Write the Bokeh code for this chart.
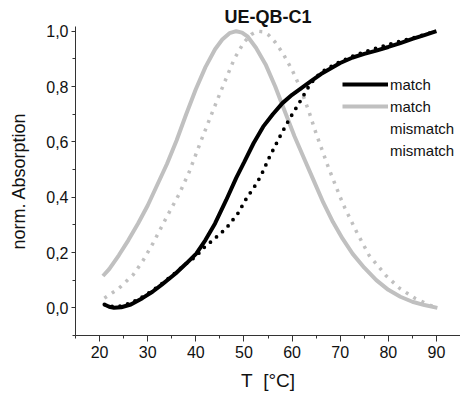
from bokeh.plotting import figure
from bokeh.models import (Range1d, FixedTicker, CustomJSTickFormatter, Legend,
                          LegendItem)
from bokeh.embed import file_html
from bokeh.resources import INLINE

# ---- data ----
title_text = "UE-QB-C1"
x_label = "T\u00a0\u00a0[°C]"
y_label = "norm. Absorption"
legend_labels = ["match", "match", "mismatch", "mismatch"]

x_ticks = [20, 30, 40, 50, 60, 70, 80, 90]
x_minor = [15, 25, 35, 45, 55, 65, 75, 85, 95]
y_ticks = [0.0, 0.2, 0.4, 0.6, 0.8, 1.0]
y_minor = [-0.1, 0.1, 0.3, 0.5, 0.7, 0.9]

# black solid: match (sigmoid)
match_black_T = [21, 22, 23, 24.5, 26.5, 28.9, 31, 33, 35.8, 38, 40.1, 42, 44, 46.3,
                 48.4, 50, 52, 54, 56, 58, 60, 62, 64, 66, 68, 70, 72.6, 75, 77.5,
                 80, 82.5, 85, 87.5, 90]
match_black_A = [0.012, 0.004, 0.0, 0.002, 0.012, 0.035, 0.058, 0.085, 0.124, 0.16,
                 0.196, 0.245, 0.305, 0.389, 0.47, 0.525, 0.595, 0.655, 0.70, 0.74,
                 0.77, 0.795, 0.82, 0.845, 0.865, 0.885, 0.905, 0.918, 0.93, 0.943,
                 0.957, 0.972, 0.986, 1.0]

# grey solid: match (derivative)
match_grey_T = [20.7, 22, 24, 26, 28, 30, 32, 34, 36, 38, 40, 42, 44, 45.5, 47, 48.4,
                49.6, 50.8, 52.5, 54.5, 56.5, 58.5, 60.5, 62.5, 64.5, 66.5, 68.5, 70.5,
                72.6, 75, 77.5, 80, 82.5, 85, 87.5, 90.2]
match_grey_A = [0.115, 0.14, 0.19, 0.245, 0.305, 0.37, 0.445, 0.52, 0.605, 0.70, 0.79,
                0.87, 0.935, 0.97, 0.993, 1.0, 0.995, 0.98, 0.94, 0.88, 0.80, 0.71,
                0.62, 0.54, 0.46, 0.38, 0.31, 0.25, 0.195, 0.145, 0.10, 0.065, 0.04,
                0.022, 0.01, 0.0]

# grey dotted: mismatch (derivative)
mis_grey_T = [21, 24, 27, 29, 31, 34, 36.5, 38.6, 41, 43.5, 45.6, 48, 50, 51.5, 52.8,
              54, 55.2, 56.5, 58.1, 60, 61.6, 63.5, 65, 67.5, 70, 71, 73.4, 76, 79.6,
              82.4, 85.5, 88.6, 90]
mis_grey_A = [0.035, 0.07, 0.12, 0.17, 0.23, 0.33, 0.41, 0.49, 0.60, 0.71, 0.80, 0.90,
              0.96, 0.988, 1.0, 0.998, 0.985, 0.96, 0.92, 0.86, 0.80, 0.71, 0.63, 0.51,
              0.40, 0.36, 0.275, 0.19, 0.115, 0.07, 0.035, 0.01, 0.0]

# black dotted: mismatch (sigmoid)
mis_black_T = [21, 23, 25, 27, 29, 31, 33, 35.8, 38, 39.9, 41.7, 43.5, 46.3, 48.7,
               50.5, 52.6, 53.6, 55.3, 57.8, 59.5, 61.6, 63.6, 65, 67, 70, 72.6, 75,
               80, 85, 90]
mis_black_A = [0.012, 0.003, 0.008, 0.022, 0.04, 0.062, 0.088, 0.127, 0.16, 0.184,
               0.218, 0.244, 0.287, 0.34, 0.395, 0.449, 0.48, 0.545, 0.63, 0.684,
               0.744, 0.804, 0.835, 0.862, 0.89, 0.91, 0.925, 0.952, 0.975, 1.0]

FONT = "Liberation Sans"
GREY = "#c0c0c0"

p = figure(width=460, height=396, output_backend="svg", toolbar_location=None,
           x_range=Range1d(15, 95), y_range=Range1d(-0.1, 1.017),
           min_border_left=75, min_border_right=0, min_border_top=26,
           min_border_bottom=61)
p.outline_line_color = None
p.xgrid.visible = False
p.ygrid.visible = False
p.background_fill_color = "white"
p.border_fill_color = "white"

p.title.text = title_text
p.title.align = "center"
p.title.text_font = FONT
p.title.text_font_style = "bold"
p.title.text_font_size = "18px"
p.title.text_color = "#111111"
p.title.standoff = 0
p.title.offset = 0

r_gs = p.line(match_grey_T, match_grey_A, line_color=GREY, line_width=4)
r_gd = p.line(mis_grey_T, mis_grey_A, line_color=GREY, line_width=3.5,
              line_dash="3 6", line_cap="butt")
r_bd = p.line(mis_black_T, mis_black_A, line_color="black", line_width=3.8,
              line_dash="0 8", line_cap="round")
r_bs = p.line(match_black_T, match_black_A, line_color="black", line_width=4)

# legend samples for the mismatch entries (faint dotted)
r_l3 = p.line([], [], line_color="#e4e4e4", line_width=3, line_dash="1 6")
r_l4 = p.line([], [], line_color="#eeeeee", line_width=3, line_dash="1 6")

for ax in (p.xaxis[0], p.yaxis[0]):
    ax.axis_line_color = "#333333"
    ax.major_tick_line_color = "#333333"
    ax.minor_tick_line_color = "#333333"
    ax.major_tick_in = 0
    ax.minor_tick_in = 0
    ax.major_label_text_font = FONT
    ax.major_label_text_font_size = "16px"
    ax.major_label_text_color = "#111111"
    ax.axis_label_text_font = FONT
    ax.axis_label_text_font_style = "normal"
    ax.axis_label_text_color = "#111111"

p.xaxis.ticker = FixedTicker(ticks=x_ticks, minor_ticks=x_minor)
p.yaxis.ticker = FixedTicker(ticks=y_ticks, minor_ticks=y_minor)
p.yaxis.formatter = CustomJSTickFormatter(
    code="return tick.toFixed(1).replace('.', ',');")
p.xaxis.major_tick_out = 6
p.xaxis.minor_tick_out = 3
p.yaxis.major_tick_out = 4
p.yaxis.minor_tick_out = 3
p.xaxis.major_label_standoff = 4
p.yaxis.major_label_standoff = 3
p.xaxis.axis_label = x_label
p.yaxis.axis_label = y_label
p.xaxis.axis_label_text_font_size = "19px"
p.yaxis.axis_label_text_font_size = "18px"
p.xaxis.axis_label_standoff = 9
p.yaxis.axis_label_standoff = 14

legend = Legend(items=[LegendItem(label=legend_labels[0], renderers=[r_bs]),
                       LegendItem(label=legend_labels[1], renderers=[r_gs]),
                       LegendItem(label=legend_labels[2], renderers=[r_l3]),
                       LegendItem(label=legend_labels[3], renderers=[r_l4])],
                location=(267, 175), glyph_width=46, glyph_height=20,
                label_height=20, label_standoff=2, spacing=2, padding=0,
                margin=0, border_line_alpha=0, background_fill_alpha=0,
                label_text_font=FONT, label_text_font_size="15px",
                label_text_color="#111111")
p.add_layout(legend, "center")

open("out.html", "w").write(file_html(p, INLINE))
